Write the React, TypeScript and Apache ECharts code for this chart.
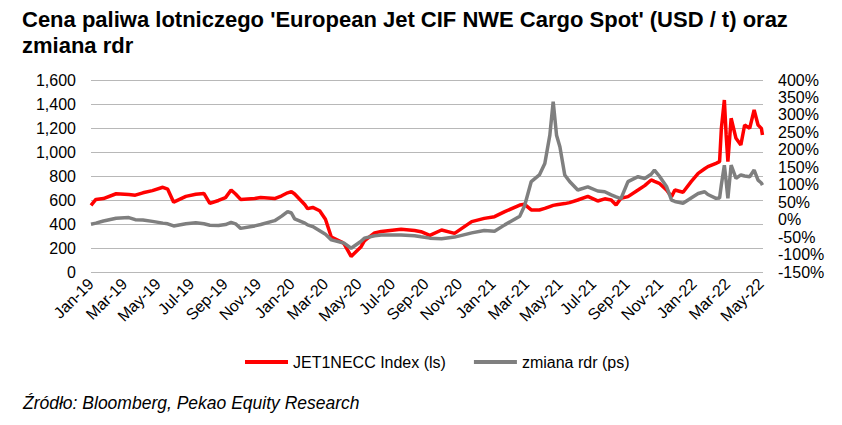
import React, { useEffect, useRef } from "react";
import * as echarts from "echarts";

const FONT = "'Liberation Sans', Arial, sans-serif";

const titleText =
  "Cena paliwa lotniczego 'European Jet CIF NWE Cargo Spot' (USD / t) oraz\nzmiana rdr";
const sourceText = "Źródło: Bloomberg, Pekao Equity Research";
const seriesNames = ["JET1NECC Index (ls)", "zmiana rdr (ps)"];

const xTickLabels = [
  "Jan-19", "Mar-19", "May-19", "Jul-19", "Sep-19", "Nov-19",
  "Jan-20", "Mar-20", "May-20", "Jul-20", "Sep-20", "Nov-20",
  "Jan-21", "Mar-21", "May-21", "Jul-21", "Sep-21", "Nov-21",
  "Jan-22", "Mar-22", "May-22",
];

const dates = [
  "2019-01-01", "2019-01-10", "2019-01-24", "2019-02-15", "2019-03-09", "2019-03-21",
  "2019-04-04", "2019-04-21", "2019-05-10", "2019-05-19", "2019-05-30", "2019-06-21",
  "2019-07-09", "2019-07-24", "2019-08-04", "2019-08-20", "2019-09-02", "2019-09-12",
  "2019-09-20", "2019-09-29", "2019-10-25", "2019-11-05", "2019-11-30", "2019-12-13",
  "2019-12-24", "2019-12-31", "2020-01-06", "2020-01-25", "2020-01-30", "2020-02-08",
  "2020-02-20", "2020-03-01", "2020-03-12", "2020-04-02", "2020-04-05", "2020-04-17",
  "2020-05-05", "2020-05-11", "2020-05-30", "2020-06-11", "2020-07-17", "2020-08-11",
  "2020-08-23", "2020-09-08", "2020-09-29", "2020-10-23", "2020-11-23", "2020-12-16",
  "2021-01-04", "2021-01-23", "2021-02-18", "2021-02-26", "2021-03-10", "2021-03-25",
  "2021-04-04", "2021-04-13", "2021-04-19", "2021-04-25", "2021-05-01", "2021-05-10",
  "2021-05-19", "2021-06-03", "2021-06-21", "2021-07-09", "2021-07-22", "2021-08-03",
  "2021-08-12", "2021-08-21", "2021-09-03", "2021-09-21", "2021-10-03", "2021-10-15",
  "2021-10-21", "2021-10-30", "2021-11-12", "2021-11-21", "2021-11-27", "2021-12-12",
  "2021-12-27", "2022-01-09", "2022-01-21", "2022-01-27", "2022-02-10", "2022-02-16",
  "2022-02-19", "2022-02-24", "2022-02-27", "2022-03-02", "2022-03-08", "2022-03-17",
  "2022-03-26", "2022-04-02", "2022-04-11", "2022-04-19", "2022-04-26", "2022-05-02",
  "2022-05-04",
];

// JET1NECC Index, USD/t (left axis)
const jetPrice = [
  555, 605, 612, 652, 645, 640,
  660, 678, 706, 690, 582, 630,
  648, 655, 572, 596, 620, 683,
  650, 605, 612, 620, 612, 635,
  660, 670, 650, 560, 528, 538,
  510, 440, 290, 245, 230, 130,
  211, 260, 326, 338, 356, 345,
  336, 305, 350, 322, 420, 447,
  461, 503, 558, 564, 517, 517,
  530, 545, 555, 560, 565, 570,
  578, 600, 630, 592, 610, 600,
  558, 614, 628, 683, 720, 767,
  755, 739, 683, 628, 683, 665,
  753, 822, 860, 878, 906, 919,
  1197, 1433, 1142, 919, 1281, 1114,
  1058, 1225, 1197, 1350, 1225, 1197,
  1142,
];

// zmiana rdr, % (right axis)
const yoyChange = [
  -13, -10, -4, 4, 6, 0,
  -1, -5, -10, -12, -18, -12,
  -9, -12, -16, -17, -14, -8,
  -12, -25, -18, -14, -3, 10,
  23, 19, 2, -10, -15, -20,
  -32, -42, -58, -66, -68, -82,
  -62, -53, -46, -44, -44, -46,
  -49, -53, -55, -50, -38, -31,
  -33, -15, 10, 40, 109, 128,
  161, 242, 338, 242, 209, 128,
  109, 85, 94, 82, 80, 71,
  65, 60, 109, 123, 118, 130,
  142, 125, 95, 56, 52, 47,
  62, 75, 80, 72, 61, 62,
  100, 156, 110, 61, 156, 118,
  128, 125, 123, 142, 113, 105,
  99,
];

function toMonths(d: string): number {
  const [y, mo, da] = d.split("-").map(Number);
  const dim = new Date(y, mo, 0).getDate();
  return (y - 2019) * 12 + (mo - 1) + (da - 1) / dim;
}

function fmtThousands(v: number): string {
  if (v >= 1000) {
    return `${Math.floor(v / 1000)},${String(v % 1000).padStart(3, "0")}`;
  }
  return String(v);
}

export default function App() {
  const ref = useRef<HTMLDivElement>(null);

  useEffect(() => {
    if (!ref.current) return;
    const chart = echarts.init(ref.current, undefined, { renderer: "svg" });
    const xs = dates.map(toMonths);
    const lastX = toMonths("2022-05-05");

    chart.setOption({
      animation: false,
      backgroundColor: "#ffffff",
      title: {
        text: titleText,
        left: 22,
        top: 6,
        padding: 0,
        textStyle: {
          fontFamily: FONT,
          fontSize: 22,
          fontWeight: "bold",
          color: "#000000",
          lineHeight: 26,
        },
      },
      grid: { left: 91, right: 79, top: 80, bottom: 153, containLabel: false },
      legend: {
        left: 240,
        top: 349,
        icon: "rect",
        itemWidth: 43,
        itemHeight: 4,
        itemGap: 28,
        textStyle: { fontFamily: FONT, fontSize: 16, color: "#000000" },
        data: seriesNames,
      },
      xAxis: {
        type: "value",
        min: 0,
        max: lastX,
        interval: 2,
        axisLine: { show: false },
        axisTick: { show: false },
        splitLine: { show: false },
        axisLabel: {
          rotate: 45,
          margin: 9,
          fontFamily: FONT,
          fontSize: 16,
          color: "#000000",
          showMaxLabel: false,
          formatter: (v: number) => {
            if (Math.abs(v - Math.round(v)) > 1e-6) return "";
            const i = Math.round(v) / 2;
            return xTickLabels[i] ?? "";
          },
        },
      },
      yAxis: [
        {
          type: "value",
          min: 0,
          max: 1600,
          interval: 200,
          axisLine: { show: false },
          axisTick: { show: false },
          splitLine: { lineStyle: { color: "#b8b8b8", width: 1 } },
          axisLabel: {
            margin: 15,
            fontFamily: FONT,
            fontSize: 16,
            color: "#000000",
            formatter: (v: number) => fmtThousands(v),
          },
        },
        {
          type: "value",
          position: "right",
          min: -150,
          max: 400,
          interval: 50,
          axisLine: { show: false },
          axisTick: { show: false },
          splitLine: { show: false },
          axisLabel: {
            margin: 15,
            fontFamily: FONT,
            fontSize: 16,
            color: "#000000",
            formatter: "{value}%",
          },
        },
      ],
      series: [
        {
          name: seriesNames[0],
          type: "line",
          yAxisIndex: 0,
          showSymbol: false,
          symbol: "none",
          color: "#ff0000",
          lineStyle: { color: "#ff0000", width: 3.5 },
          data: xs.map((x, i) => [x, jetPrice[i]]),
        },
        {
          name: seriesNames[1],
          type: "line",
          yAxisIndex: 1,
          showSymbol: false,
          symbol: "none",
          color: "#7f7f7f",
          lineStyle: { color: "#7f7f7f", width: 3.5 },
          data: xs.map((x, i) => [x, yoyChange[i]]),
        },
      ],
      graphic: [
        {
          type: "text",
          left: 23,
          top: 394,
          style: {
            text: sourceText,
            font: `italic 17.5px ${FONT}`,
            fill: "#000000",
          },
        },
      ],
    });

    return () => chart.dispose();
  }, []);

  return (
    <div
      ref={ref}
      style={{ position: "absolute", left: 0, top: 0, width: 842, height: 425 }}
    />
  );
}
